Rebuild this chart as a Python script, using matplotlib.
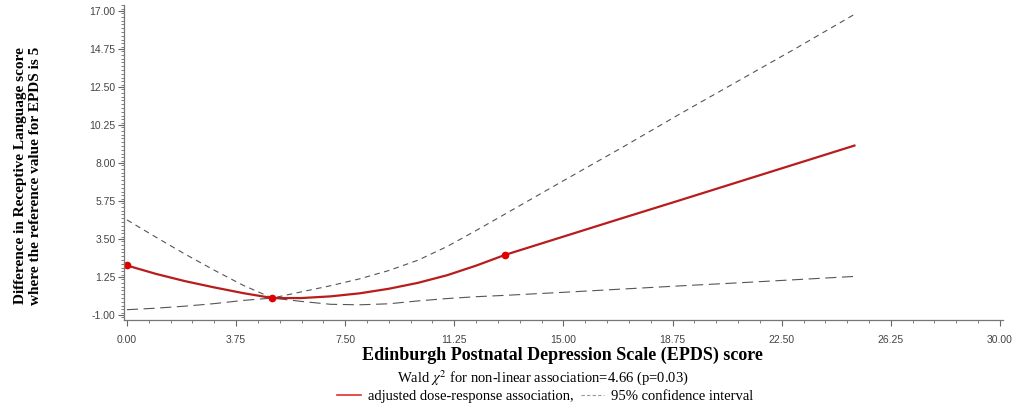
import numpy as np
import matplotlib
matplotlib.use("Agg")
import matplotlib.pyplot as plt
from matplotlib.lines import Line2D
from matplotlib.ticker import MultipleLocator, FormatStrFormatter

plt.rcParams['mathtext.fontset'] = 'stix'

# EPDS score grid and estimated curves
epds = [0, 1, 2, 3, 4, 5, 6, 7, 8, 9, 10, 11, 12, 13, 15, 17, 19, 21, 23, 25]
est = [1.93, 1.43, 1.00, 0.63, 0.29, 0.0, 0.0, 0.10, 0.28, 0.55, 0.90, 1.35, 1.92, 2.56,
       3.64, 4.72, 5.79, 6.87, 7.95, 9.03]
upper = [4.63, 3.60, 2.60, 1.65, 0.75, 0.0, 0.37, 0.73, 1.14, 1.63, 2.24, 3.05, 4.00, 4.98,
         6.95, 8.90, 10.90, 12.85, 14.80, 16.80]
lower = [-0.69, -0.60, -0.48, -0.33, -0.14, 0.0, -0.20, -0.37, -0.40, -0.34, -0.17, -0.03, 0.08, 0.16,
         0.34, 0.53, 0.72, 0.90, 1.09, 1.28]
knots_x = [0, 5, 13]
knots_y = [1.93, 0.0, 2.56]

fig = plt.figure(figsize=(10.14, 4.09), dpi=100)
ax = fig.add_axes([0.1223, 0.2176, 0.8667, 0.7704])

ax.plot(epds, upper, color='#555555', lw=0.8, linestyle=(0, (5, 4)))
ax.plot(epds, lower, color='#555555', lw=0.8, linestyle=(0, (10, 5)))
ax.plot(epds, est, color='#b81c1c', lw=1.6)
ax.plot(knots_x, knots_y, 'o', color='#e00000', ms=4.5)

ax.set_xlim(-0.1, 30.1)
ax.set_ylim(-1.3, 17.36)
ax.xaxis.set_major_locator(MultipleLocator(3.75))
ax.xaxis.set_minor_locator(MultipleLocator(0.75))
ax.yaxis.set_minor_locator(MultipleLocator(0.225))
ax.set_yticks(np.arange(-1.0, 17.01, 2.25))
ax.xaxis.set_major_formatter(FormatStrFormatter('%.2f'))
ax.yaxis.set_major_formatter(FormatStrFormatter('%.2f'))
ax.tick_params(which='major', length=4, width=0.8, color='#666666', labelsize=7.5,
               labelcolor='#444444')
ax.tick_params(axis='x', which='major', pad=7)
ax.tick_params(axis='y', which='major', pad=2)
ax.tick_params(which='minor', length=2, width=0.6, color='#666666')
for lab in ax.get_xticklabels() + ax.get_yticklabels():
    lab.set_family('Liberation Sans')
for s in ['top', 'right']:
    ax.spines[s].set_visible(False)
for s in ['left', 'bottom']:
    ax.spines[s].set_color('#777777')
    ax.spines[s].set_linewidth(0.9)

fig.text(0.028, 0.57, 'Difference in Receptive Language score\nwhere the reference value for EPDS is 5',
         family='Liberation Serif', fontweight='bold', fontsize=11, rotation=90,
         ha='center', va='center', linespacing=1.2)

fig.text(0.555, 0.132, 'Edinburgh Postnatal Depression Scale (EPDS) score',
         family='Liberation Serif', fontweight='bold', fontsize=13, ha='center', va='center')
fig.text(0.535, 0.077, r'Wald $\chi^2$ for non-linear association=4.66 (p=0.03)',
         family='Liberation Serif', fontsize=10.5, ha='center', va='center')

handles = [Line2D([], [], color='#e03030', lw=1.2),
           Line2D([], [], color='#999999', lw=0.8, linestyle=(0, (3, 2)))]
fig.legend(handles, ['adjusted dose-response association,', '95% confidence interval'],
           loc='center', bbox_to_anchor=(0.538, 0.03), ncol=2, frameon=False,
           handlelength=1.6, handletextpad=0.5, columnspacing=0.5,
           prop={'family': 'Liberation Serif', 'size': 10.5})

fig.savefig('out.png', dpi=100)
